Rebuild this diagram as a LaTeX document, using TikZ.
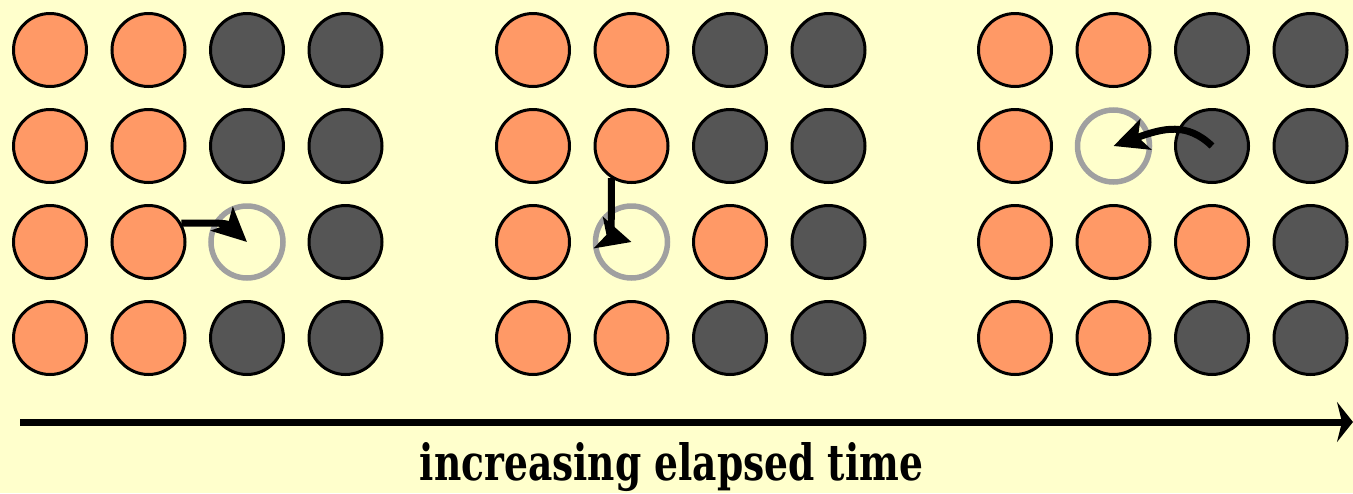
\documentclass[tikz,border=0pt]{standalone}
\usepackage{fontspec}
\setmainfont{DejaVu Serif}
\usepackage{graphicx}
\usepackage{tikz}
\usetikzlibrary{arrows.meta,positioning}
\definecolor{bgfill}{HTML}{FFFFCC}
\definecolor{atomorange}{HTML}{FF9966}
\definecolor{atomdark}{HTML}{555555}
\definecolor{vacgray}{HTML}{A0A0A0}

\begin{document}
\begin{tikzpicture}[x=1pt, y=1pt,
  dot/.style={circle, draw=black, line width=3pt, minimum size=73pt, inner sep=0pt},
  doto/.style={dot, fill=atomorange},
  dotd/.style={dot, fill=atomdark},
  dotv/.style={circle, draw=vacgray, line width=5.5pt, minimum size=72pt, inner sep=0pt},
  hop/.style={-{Stealth[length=34pt, width=32pt, inset=8pt]}, line width=7pt},
  timearr/.style={-{Stealth[length=16pt, width=40pt, inset=5pt]}, line width=7pt}
]
  \fill[bgfill] (0,0) rectangle (1353,-493);
  \useasboundingbox (0,0) rectangle (1353,-493);

  % first snapshot
  \foreach \r/\y/\row in {1/50/{o,o,d,d}, 2/146/{o,o,d,d}, 3/242/{o,o,v,d}, 4/338/{o,o,d,d}}
    \foreach[count=\c] \s in \row
      \node[dot\s] (a-\r-\c) at ({50+98.5*(\c-1)}, -\y) {};

  % second snapshot
  \foreach \r/\y/\row in {1/50/{o,o,d,d}, 2/146/{o,o,d,d}, 3/242/{o,v,o,d}, 4/338/{o,o,d,d}}
    \foreach[count=\c] \s in \row
      \node[dot\s] (b-\r-\c) at ({533+98.5*(\c-1)}, -\y) {};

  % third snapshot
  \foreach \r/\y/\row in {1/50/{o,o,d,d}, 2/146/{o,v,d,d}, 3/242/{o,o,o,d}, 4/338/{o,o,d,d}}
    \foreach[count=\c] \s in \row
      \node[dot\s] (c-\r-\c) at ({1015+98.5*(\c-1)}, -\y) {};

  \draw[hop] (a-3-2.30) .. controls +(45,0) .. (a-3-3.center);
  \draw[hop] (b-2-2.238) .. controls +(0,-58) .. (b-3-2.center);
  \draw[hop] (c-2-3.center) .. controls +(-25,24) and +(50,18) .. (c-2-2.center);

  \coordinate (t0) at (20,-422);
  \coordinate (t1) at (1353,-422);
  \draw[timearr] (t0) -- (t1);
  \node[anchor=base, inner sep=0pt] (tlabel) at (671.5,-480)
    {\resizebox{503pt}{38pt}{\bfseries increasing elapsed time}};
\end{tikzpicture}
\end{document}
